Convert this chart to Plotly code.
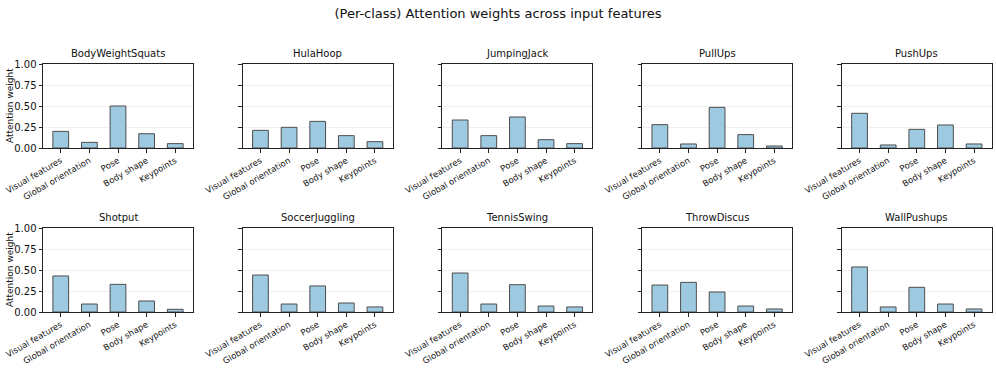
import plotly.graph_objects as go

features = ["Visual features", "Global orientation", "Pose", "Body shape", "Keypoints"]
classes = ["BodyWeightSquats", "HulaHoop", "JumpingJack", "PullUps", "PushUps",
           "Shotput", "SoccerJuggling", "TennisSwing", "ThrowDiscus", "WallPushups"]

body_weight_squats = [0.198, 0.067, 0.500, 0.170, 0.052]
hula_hoop = [0.210, 0.246, 0.317, 0.147, 0.075]
jumping_jack = [0.333, 0.147, 0.369, 0.099, 0.052]
pull_ups = [0.278, 0.048, 0.484, 0.159, 0.024]
push_ups = [0.413, 0.036, 0.222, 0.274, 0.048]
shotput = [0.429, 0.095, 0.329, 0.131, 0.032]
soccer_juggling = [0.440, 0.095, 0.310, 0.107, 0.060]
tennis_swing = [0.464, 0.095, 0.325, 0.071, 0.060]
throw_discus = [0.321, 0.353, 0.238, 0.071, 0.036]
wall_pushups = [0.536, 0.060, 0.294, 0.095, 0.036]

values = [body_weight_squats, hula_hoop, jumping_jack, pull_ups, push_ups,
          shotput, soccer_juggling, tennis_swing, throw_discus, wall_pushups]

W, H = 996, 375
FONT = "DejaVu Sans"

fig = go.Figure()
# plot area boxes in pixels
col_left = [43 + 199.7 * i for i in range(5)]
col_w = 150
rows = [(64, 148), (228, 312)]

for k, (name, vals) in enumerate(zip(classes, values)):
    r, c = divmod(k, 5)
    n = k + 1
    xa = "x" if n == 1 else "x%d" % n
    ya = "y" if n == 1 else "y%d" % n
    fig.add_trace(go.Bar(
        x=features, y=vals, xaxis=xa, yaxis=ya, width=0.55,
        marker=dict(color="#9ecae1", line=dict(color="#4d4d4d", width=1)),
        showlegend=False))
    x0 = col_left[c] / W
    x1 = (col_left[c] + col_w) / W
    top, bot = rows[r]
    y0 = 1 - bot / H
    y1 = 1 - top / H
    xkey = "xaxis" if n == 1 else "xaxis%d" % n
    ykey = "yaxis" if n == 1 else "yaxis%d" % n
    fig.layout[xkey] = dict(
        domain=[x0, x1], anchor=ya, type="category", range=[-0.62, 4.62],
        automargin=False,
        showline=True, mirror=True, linecolor="#222", linewidth=1,
        ticks="outside", ticklen=3.5, tickcolor="#222", tickangle=-30,
        tickfont=dict(size=8.5, family=FONT, color="#111"), showgrid=False)
    fig.layout[ykey] = dict(
        domain=[y0, y1], anchor=xa, range=[0, 1], tickvals=[0, 0.25, 0.5, 0.75, 1.0],
        ticktext=["0.00", "0.25", "0.50", "0.75", "1.00"] if c == 0 else ["", "", "", "", ""],
        automargin=False,
        showline=True, mirror=True, linecolor="#222", linewidth=1,
        ticks="outside", ticklen=3.5, tickcolor="#222",
        showgrid=True, gridcolor="#f0f0f0", gridwidth=1, zeroline=False,
        tickfont=dict(size=10, family=FONT, color="#111"))
    fig.add_annotation(text=name, x=(x0 + x1) / 2, y=y1, xref="paper", yref="paper",
                       xanchor="center", yanchor="bottom", yshift=3, showarrow=False,
                       font=dict(size=10, family=FONT, color="#111"))
    if c == 0:
        fig.add_annotation(text="Attention weight", x=10 / W, y=(y0 + y1) / 2,
                           xref="paper", yref="paper", textangle=-90,
                           xanchor="center", yanchor="middle", showarrow=False,
                           font=dict(size=9, family=FONT, color="#111"))

fig.update_layout(
    width=W, height=H,
    margin=dict(l=0, r=0, t=0, b=0),
    paper_bgcolor="white", plot_bgcolor="white",
    title=dict(text="(Per-class) Attention weights across input features",
               x=0.5, xanchor="center", y=1 - 13 / H, yanchor="middle",
               font=dict(size=13, family=FONT, color="#111")),
    bargap=0.45,
)

fig.write_html("out.html", config={"displayModeBar": False},
               post_script="document.body.style.margin='0px';")
